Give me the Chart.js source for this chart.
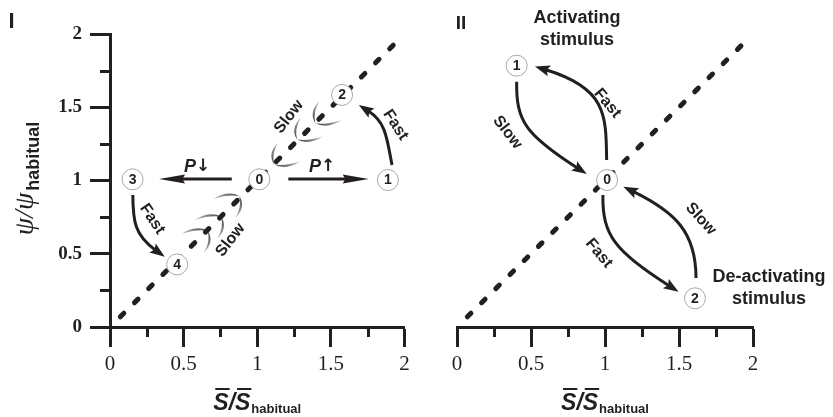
<!DOCTYPE html>
<html>
<head>
<meta charset="utf-8">
<script src="https://cdn.jsdelivr.net/npm/chart.js@4/dist/chart.umd.min.js"></script>
<style>
  html, body { margin: 0; padding: 0; background: #fff; overflow: hidden; }
  #wrap { position: relative; width: 833px; height: 417px; }
  canvas { position: absolute; top: 0; }
  #panelI { left: 0; }
  #panelII { left: 416px; }
</style>
</head>
<body>
<div id="wrap">
  <canvas id="panelI" width="416" height="417"></canvas>
  <canvas id="panelII" width="417" height="417"></canvas>
</div>
<script>
// ---- axis ticks (both panels share S/S_hab on x and psi/psi_hab on y) ----
const tickValues = [0, 0.5, 1, 1.5, 2];
const tickLabels = ['0', '0.5', '1', '1.5', '2'];
const minorTickValues = [0.25, 0.75, 1.25, 1.75];

// ---- identity line: psi/psi_hab = S/S_hab ----
const diagonal = [{ x: 0.07, y: 0.07 }, { x: 1.98, y: 1.98 }];

// ---- panel I: numbered states ----
const stateNamesI = ['0', '1', '2', '3', '4'];
const stateXI = [1.014, 1.887, 1.576, 0.153, 0.456];
const stateYI = [1.008, 1.003, 1.584, 1.008, 0.427];

// ---- panel II: numbered states ----
const stateNamesII = ['0', '1', '2'];
const stateXII = [1.014, 0.403, 1.608];
const stateYII = [1.003, 1.784, 0.196];

// ---- panel I: transitions (P up / P down, fast jumps) ----
const arrowsI = [
  { from: [1.211, 1.010], to: [1.757, 1.010], head: 'long' },
  { from: [0.827, 1.010], to: [0.333, 1.010], head: 'long' },
  { from: [1.915, 1.106], c1: [1.879, 1.306], c2: [1.804, 1.442], to: [1.690, 1.515], head: 'short' },
  { from: [0.155, 0.901], c1: [0.156, 0.722], c2: [0.229, 0.582], to: [0.372, 0.480], head: 'short' }
];

// ---- panel I: slow relaxation marks along the identity line ----
const slowMarksDown = [[1.115, 1.110], [1.270, 1.280], [1.395, 1.390]];
const slowMarksUp = [[0.664, 0.657], [0.755, 0.753], [0.878, 0.894]];

// ---- panel II: transitions ----
const arrowsII = [
  { from: [1.011, 1.140], c1: [1.007, 1.447], c2: [0.939, 1.652], to: [0.527, 1.778], head: 'short' },
  { from: [0.403, 1.674], c1: [0.399, 1.406], c2: [0.527, 1.270], to: [0.877, 1.044], head: 'short' },
  { from: [0.986, 0.901], c1: [0.980, 0.628], c2: [1.135, 0.471], to: [1.497, 0.241], head: 'short' },
  { from: [1.615, 0.334], c1: [1.615, 0.648], c2: [1.405, 0.819], to: [1.124, 0.958], head: 'short' }
];

// ---- text notes (data position, rotation in degrees) ----
const notesI = [
  { text: 'Fast', x: 1.939, y: 1.379, angle: 57 },
  { text: 'Slow', x: 1.216, y: 1.435, angle: -52 },
  { text: 'Slow', x: 0.818, y: 0.594, angle: -52 },
  { text: 'Fast', x: 0.287, y: 0.737, angle: 56 }
];
const pressureNotes = [
  { arrow: '\u2191', x: 1.441, y: 1.094 },
  { arrow: '\u2193', x: 0.592, y: 1.094 }
];
const notesII = [
  { text: 'Fast', x: 1.017, y: 1.527, angle: 50 },
  { text: 'Slow', x: 0.341, y: 1.328, angle: 52 },
  { text: 'Fast', x: 0.959, y: 0.503, angle: 50 },
  { text: 'Slow', x: 1.647, y: 0.737, angle: 48 }
];
const stimulusNotes = [
  { text: 'Activating', x: 0.811, y: 2.109 },
  { text: 'stimulus', x: 0.811, y: 1.959 },
  { text: 'De-activating', x: 2.108, y: 0.341 },
  { text: 'stimulus', x: 2.108, y: 0.191 }
];

// ---- styling ----
const SERIF = "'Liberation Serif', 'Times New Roman', serif";
const SANS = "'Liberation Sans', Arial, sans-serif";
const INK = '#231f20';
const HEADS = {
  long: { len: 26, width: 9, notch: 0.1 },
  short: { len: 15, width: 11, notch: 0.18 }
};

function toPx(chart, p) {
  return [chart.scales.x.getPixelForValue(p[0]), chart.scales.y.getPixelForValue(p[1])];
}

function drawArrow(chart, a) {
  const ctx = chart.ctx;
  const h = HEADS[a.head];
  const p0 = toPx(chart, a.from);
  const p3 = toPx(chart, a.to);
  const p1 = a.c1 ? toPx(chart, a.c1) : p0;
  const p2 = a.c2 ? toPx(chart, a.c2) : p0;
  let dx = p3[0] - p2[0], dy = p3[1] - p2[1];
  const len = Math.hypot(dx, dy) || 1;
  const ux = dx / len, uy = dy / len;
  const back = h.len * 0.75;
  ctx.save();
  ctx.strokeStyle = INK;
  ctx.fillStyle = INK;
  ctx.lineWidth = 3;
  ctx.lineCap = 'butt';
  ctx.beginPath();
  ctx.moveTo(p0[0], p0[1]);
  if (a.c1) {
    ctx.bezierCurveTo(p1[0], p1[1], p2[0] - ux * back, p2[1] - uy * back, p3[0] - ux * back, p3[1] - uy * back);
  } else {
    ctx.lineTo(p3[0] - ux * back, p3[1] - uy * back);
  }
  ctx.stroke();
  // arrow head
  const bx = p3[0] - ux * h.len, by = p3[1] - uy * h.len;
  const nx = -uy, ny = ux;
  ctx.beginPath();
  ctx.moveTo(p3[0], p3[1]);
  ctx.lineTo(bx + nx * h.width / 2, by + ny * h.width / 2);
  ctx.lineTo(bx + ux * h.len * h.notch, by + uy * h.len * h.notch);
  ctx.lineTo(bx - nx * h.width / 2, by - ny * h.width / 2);
  ctx.closePath();
  ctx.fill();
  ctx.restore();
}

// curved grey barbs showing slow drift along the identity line
function drawSlowMark(chart, p, s) {
  const ctx = chart.ctx;
  const [px, py] = toPx(chart, p);
  const barbs = [
    { end: [4 * s, -22 * s], ctrl: [-5 * s, -11 * s], bow: [-2.2 * s, 0] },
    { end: [26 * s, -3 * s], ctrl: [11 * s, 4 * s], bow: [0, 2.2 * s] }
  ];
  ctx.save();
  for (const b of barbs) {
    const grad = ctx.createLinearGradient(px, py, px + b.end[0], py + b.end[1]);
    grad.addColorStop(0, '#444444');
    grad.addColorStop(0.6, '#8a8a8a');
    grad.addColorStop(1, '#bdbdbd');
    ctx.fillStyle = grad;
    ctx.beginPath();
    ctx.moveTo(px, py);
    ctx.quadraticCurveTo(px + b.ctrl[0] + b.bow[0], py + b.ctrl[1] + b.bow[1], px + b.end[0], py + b.end[1]);
    ctx.quadraticCurveTo(px + b.ctrl[0] - b.bow[0], py + b.ctrl[1] - b.bow[1], px, py);
    ctx.closePath();
    ctx.fill();
  }
  ctx.restore();
}

function drawNote(chart, n, font) {
  const ctx = chart.ctx;
  const [px, py] = toPx(chart, [n.x, n.y]);
  ctx.save();
  ctx.translate(px, py);
  if (n.angle) ctx.rotate(n.angle * Math.PI / 180);
  ctx.font = font;
  ctx.fillStyle = INK;
  ctx.textAlign = 'center';
  ctx.textBaseline = 'middle';
  ctx.fillText(n.text, 0, 0);
  ctx.restore();
}

function drawPressure(chart, n) {
  const ctx = chart.ctx;
  const [px, py] = toPx(chart, [n.x, n.y]);
  const fP = `italic bold 18px ${SANS}`;
  const fA = `bold 17px 'DejaVu Sans', ${SANS}`;
  ctx.save();
  ctx.fillStyle = INK;
  ctx.textBaseline = 'middle';
  ctx.font = fP;
  const wP = ctx.measureText('P').width;
  ctx.font = fA;
  const wA = ctx.measureText(n.arrow).width;
  const x0 = px - (wP + wA) / 2;
  ctx.textAlign = 'left';
  ctx.font = fP;
  ctx.fillText('P', x0, py);
  ctx.font = fA;
  ctx.fillText(n.arrow, x0 + wP, py);
  ctx.restore();
}

function drawStateNumbers(chart, names) {
  const ctx = chart.ctx;
  const meta = chart.getDatasetMeta(0);
  ctx.save();
  ctx.fillStyle = INK;
  ctx.font = `bold 14px ${SANS}`;
  ctx.textAlign = 'center';
  ctx.textBaseline = 'middle';
  meta.data.forEach((pt, i) => ctx.fillText(names[i], pt.x, pt.y + 0.5));
  ctx.restore();
}

function drawMinorTicks(chart) {
  const ctx = chart.ctx;
  const xs = chart.scales.x, ys = chart.scales.y;
  ctx.save();
  ctx.strokeStyle = INK;
  ctx.lineWidth = 3;
  ctx.beginPath();
  for (const v of minorTickValues) {
    const px = Math.round(xs.getPixelForValue(v)) + 0.5;
    ctx.moveTo(px, xs.top);
    ctx.lineTo(px, xs.top + 10);
  }
  if (ys.options.display) {
    for (const v of minorTickValues) {
      const py = Math.round(ys.getPixelForValue(v)) + 0.5;
      ctx.moveTo(ys.right, py);
      ctx.lineTo(ys.right - 10, py);
    }
  }
  ctx.stroke();
  ctx.restore();
}

// S-bar / S-bar with "habitual" subscript
function drawXTitle(chart) {
  const ctx = chart.ctx;
  const cx = (chart.chartArea.left + chart.chartArea.right) / 2;
  const base = 410;
  const fMain = `italic bold 23px ${SANS}`;
  const fSub = `bold 13px ${SANS}`;
  ctx.save();
  ctx.fillStyle = INK;
  ctx.strokeStyle = INK;
  ctx.textAlign = 'left';
  ctx.textBaseline = 'alphabetic';
  ctx.font = fMain;
  const wS = ctx.measureText('S').width;
  const wSl = ctx.measureText('/').width;
  ctx.font = fSub;
  const wSub = ctx.measureText('habitual').width;
  const total = wS * 2 + wSl + wSub + 1;
  let x = cx - total / 2;
  ctx.font = fMain;
  const parts = ['S', '/', 'S'];
  ctx.lineWidth = 2;
  for (const t of parts) {
    ctx.fillText(t, x, base);
    const w = ctx.measureText(t).width;
    if (t === 'S') {
      ctx.beginPath();
      ctx.moveTo(x + 2, base - 21);
      ctx.lineTo(x + w + 1, base - 21);
      ctx.stroke();
    }
    x += w;
  }
  ctx.font = fSub;
  ctx.fillText('habitual', x + 1, base + 3);
  ctx.restore();
}

// psi / psi with "habitual" subscript, reading upwards
function drawYTitle(chart) {
  const ctx = chart.ctx;
  const cy = (chart.chartArea.top + chart.chartArea.bottom) / 2 - 2;
  const cx = 33;
  const fMain = `italic 28px ${SERIF}`;
  const fSub = `bold 18px ${SANS}`;
  ctx.save();
  ctx.translate(cx, cy);
  ctx.rotate(-Math.PI / 2);
  ctx.fillStyle = INK;
  ctx.textAlign = 'left';
  ctx.textBaseline = 'alphabetic';
  ctx.font = fMain;
  const w1 = ctx.measureText('\u03C8/\u03C8').width;
  ctx.font = fSub;
  const w2 = ctx.measureText('habitual').width;
  let x = -(w1 + w2 + 2) / 2;
  ctx.font = fMain;
  ctx.fillText('\u03C8/\u03C8', x, 0);
  ctx.font = fSub;
  ctx.fillText('habitual', x + w1 + 2, 6);
  ctx.restore();
}

function drawPanelTag(chart, text, x, y, size) {
  const ctx = chart.ctx;
  ctx.save();
  ctx.fillStyle = INK;
  ctx.font = `bold ${size}px ${SANS}`;
  ctx.textAlign = 'center';
  ctx.textBaseline = 'middle';
  ctx.fillText(text, x, y);
  ctx.restore();
}

function makeScales(showY) {
  return {
    x: {
      type: 'linear', min: 0, max: 2, offset: false,
      afterBuildTicks: s => { s.ticks = tickValues.map(v => ({ value: v })); },
      ticks: {
        autoSkip: false, maxRotation: 0, padding: 5, color: INK,
        font: { family: SERIF, size: 21 },
        callback: (v, i) => tickLabels[i]
      },
      grid: { drawOnChartArea: false, drawTicks: true, tickLength: 20, tickWidth: 3, tickColor: INK },
      border: { display: true, width: 3, color: INK },
      afterFit: s => { s.height = 90; }
    },
    y: {
      type: 'linear', min: 0, max: 2, display: showY,
      afterBuildTicks: s => { s.ticks = tickValues.map(v => ({ value: v })); },
      ticks: {
        autoSkip: false, padding: 8, color: INK,
        font: { family: SERIF, size: 19, weight: 'bold' },
        callback: (v, i) => tickLabels[i]
      },
      grid: { drawOnChartArea: false, drawTicks: true, tickLength: 20, tickWidth: 3, tickColor: INK },
      border: { display: true, width: 3, color: INK },
      afterFit: s => { s.width = showY ? 110 : 0; }
    }
  };
}

function makeDatasets(xs, ys) {
  return [
    {
      label: 'states',
      data: xs.map((x, i) => ({ x, y: ys[i] })),
      pointRadius: 10.5,
      pointBackgroundColor: '#ffffff',
      pointBorderColor: '#a8a8a8',
      pointBorderWidth: 1,
      showLine: false,
      clip: false,
      order: 0
    },
    {
      label: 'identity',
      data: diagonal,
      showLine: true,
      borderColor: INK,
      borderWidth: 5,
      borderDash: [5, 15],
      borderCapStyle: 'round',
      pointRadius: 0,
      fill: false,
      clip: false,
      order: 1
    }
  ];
}

const commonOptions = {
  responsive: false,
  animation: false,
  devicePixelRatio: 1,
  events: [],
  plugins: { legend: { display: false }, tooltip: { enabled: false } }
};

new Chart(document.getElementById('panelI'), {
  type: 'scatter',
  data: { datasets: makeDatasets(stateXI, stateYI) },
  options: Object.assign({}, commonOptions, {
    layout: { padding: { top: 34, right: 10, left: 0, bottom: 0 } },
    scales: makeScales(true)
  }),
  plugins: [{
    id: 'panelIDecor',
    beforeDatasetsDraw(chart) {
      slowMarksDown.forEach(p => drawSlowMark(chart, p, 1));
      slowMarksUp.forEach(p => drawSlowMark(chart, p, -1));
    },
    afterDatasetsDraw(chart) {
      arrowsI.forEach(a => drawArrow(chart, a));
      notesI.forEach(n => drawNote(chart, n, `bold 16px ${SANS}`));
      pressureNotes.forEach(n => drawPressure(chart, n));
      drawStateNumbers(chart, stateNamesI);
    },
    afterDraw(chart) {
      drawMinorTicks(chart);
      drawXTitle(chart);
      drawYTitle(chart);
      drawPanelTag(chart, 'I', 11.5, 22, 22);
    }
  }]
});

new Chart(document.getElementById('panelII'), {
  type: 'scatter',
  data: { datasets: makeDatasets(stateXII, stateYII) },
  options: Object.assign({}, commonOptions, {
    layout: { padding: { top: 34, right: 80, left: 41, bottom: 0 } },
    scales: makeScales(false)
  }),
  plugins: [{
    id: 'panelIIDecor',
    afterDatasetsDraw(chart) {
      arrowsII.forEach(a => drawArrow(chart, a));
      notesII.forEach(n => drawNote(chart, n, `bold 16px ${SANS}`));
      stimulusNotes.forEach(n => drawNote(chart, n, `bold 18px ${SANS}`));
      drawStateNumbers(chart, stateNamesII);
    },
    afterDraw(chart) {
      drawMinorTicks(chart);
      drawXTitle(chart);
      drawPanelTag(chart, 'II', 45, 23.5, 19);
    }
  }]
});
</script>
</body>
</html>
